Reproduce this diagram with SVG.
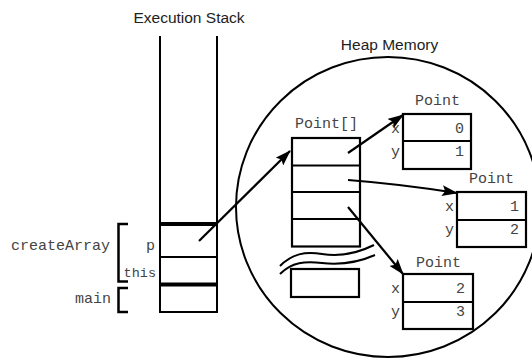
<svg xmlns="http://www.w3.org/2000/svg" width="532" height="359" viewBox="0 0 532 359">
<style>
.sans{font-family:"Liberation Sans",Arial,sans-serif;font-size:15.5px;fill:#222}
.mono{font-family:"Liberation Mono","Courier New",monospace;font-size:15px;fill:#444}
.ln{stroke:#000;stroke-width:2;fill:none}
.thick{stroke:#000;stroke-width:4;fill:none}
.box{stroke:#000;stroke-width:2.2;fill:#fff}
.br{stroke:#000;stroke-width:2.5;fill:none}
.arr{stroke:#000;stroke-width:2.2;fill:none;marker-end:url(#ah)}
</style>
<defs>
<marker id="ah" viewBox="0 0 16 11" refX="15" refY="5.5" markerWidth="16" markerHeight="11" markerUnits="userSpaceOnUse" orient="auto">
<path d="M0,0 L16,5.5 L0,11 L3,5.5 Z" fill="#000"/>
</marker>
</defs>
<rect width="532" height="359" fill="#fff"/>

<g id="heap">
<ellipse cx="388" cy="207" rx="152" ry="150" class="ln"/>
<text class="sans" x="389.5" y="50" text-anchor="middle">Heap Memory</text>
</g>

<g id="stack">
<text class="sans" x="189" y="23" text-anchor="middle">Execution Stack</text>
<line x1="160" y1="36" x2="160" y2="313" class="ln"/>
<line x1="217" y1="36" x2="217" y2="313" class="ln"/>
<line x1="160" y1="224" x2="217" y2="224" class="thick"/>
<line x1="160" y1="257" x2="217" y2="257" class="ln"/>
<line x1="160" y1="284.5" x2="217" y2="284.5" class="thick"/>
<line x1="159" y1="312" x2="218" y2="312" class="ln"/>
</g>

<g id="createArray">
<path d="M128,224 H118.5 V281.5 H128" class="br"/>
<text class="mono" x="110" y="250" text-anchor="end">createArray</text>
<text class="mono" x="155" y="250" text-anchor="end">p</text>
<text class="mono" x="156" y="277" text-anchor="end" style="font-size:13.5px">this</text>
</g>

<g id="main">
<path d="M128,288 H118.5 V312 H128" class="br"/>
<text class="mono" x="111" y="303" text-anchor="end">main</text>
</g>

<g id="pointArray">
<text class="mono" x="295" y="128">Point[]</text>
<rect x="292" y="138" width="68" height="108.5" class="box"/>
<line x1="292" y1="165.5" x2="360" y2="165.5" class="ln"/>
<line x1="292" y1="192" x2="360" y2="192" class="ln"/>
<line x1="292" y1="219" x2="360" y2="219" class="ln"/>
<path d="M280,266 C292,254 305,251 322,254 C340,257 356,254 374,245" class="ln"/>
<path d="M280,274 C292,262 305,261 322,263 C340,265 357,263 375,255" class="ln"/>
<rect x="291" y="269" width="68" height="28" class="box"/>
</g>

<g id="point1">
<text class="mono" x="415" y="105">Point</text>
<rect x="403" y="114" width="68" height="55" class="box"/>
<line x1="403" y1="141" x2="471" y2="141" class="ln"/>
<text class="mono" x="391" y="133">x</text>
<text class="mono" x="391" y="156">y</text>
<text class="mono" x="464" y="133" text-anchor="end">0</text>
<text class="mono" x="464" y="156" text-anchor="end">1</text>
</g>

<g id="point2">
<text class="mono" x="469" y="183">Point</text>
<rect x="457" y="192" width="69" height="55" class="box"/>
<line x1="457" y1="220" x2="526" y2="220" class="ln"/>
<text class="mono" x="445" y="211">x</text>
<text class="mono" x="445" y="234">y</text>
<text class="mono" x="519" y="211" text-anchor="end">1</text>
<text class="mono" x="519" y="234" text-anchor="end">2</text>
</g>

<g id="point3">
<text class="mono" x="416" y="267">Point</text>
<rect x="403" y="274" width="70" height="55" class="box"/>
<line x1="403" y1="302" x2="473" y2="302" class="ln"/>
<text class="mono" x="391" y="293">x</text>
<text class="mono" x="391" y="316">y</text>
<text class="mono" x="465" y="293" text-anchor="end">2</text>
<text class="mono" x="465" y="316" text-anchor="end">3</text>
</g>

<g id="connectors">
<line x1="199" y1="241" x2="290" y2="151" class="arr"/>
<line x1="348" y1="153" x2="403" y2="115" class="arr"/>
<path d="M348,180 Q400,184 457,193" class="arr"/>
<line x1="348" y1="207" x2="403" y2="274" class="arr"/>
</g>
</svg>
